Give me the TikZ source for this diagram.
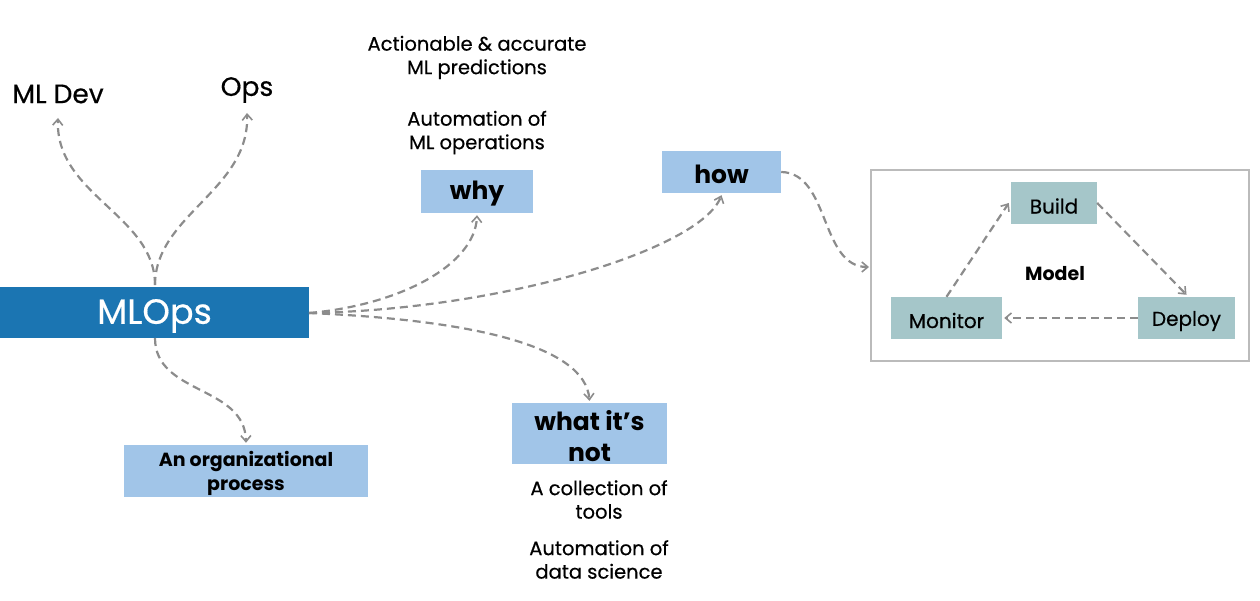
\documentclass[tikz,border=0pt]{standalone}
\usepackage{fontspec}
\setmainfont{Poppins}
\newfontfamily\medfont{Poppins}[FakeBold=0.5]
\usetikzlibrary{arrows.meta,calc}
\definecolor{mlblue}{HTML}{1B75B2}
\definecolor{lblue}{HTML}{A1C5E8}
\definecolor{teal}{HTML}{A5C6C9}
\definecolor{arr}{HTML}{8C8C8C}
\definecolor{frame}{HTML}{BBBBBB}
\tikzset{
  conn/.style={draw=arr, line width=2.2pt, dash pattern=on 8pt off 5pt, -{Straight Barb[length=6pt,width=10pt,line width=1.6pt]}},
  lbox/.style={fill=lblue, inner sep=0pt},
  tbox/.style={fill=teal, inner sep=0pt, minimum height=42pt},
  txt/.style={align=center, inner sep=0pt, text=black},
  small/.style={txt, font=\medfont\fontsize{19.5}{23.5}\selectfont},
  mid/.style={txt, font=\medfont\fontsize{20}{24}\selectfont},
  big/.style={txt, font=\bfseries\fontsize{25}{30.5}\selectfont},
}
\begin{document}
\begin{tikzpicture}[x=1pt,y=-1pt]
\useasboundingbox (0,0) rectangle (1260,601);
% main
\node[fill=mlblue, minimum width=309pt, minimum height=51pt, inner sep=0pt] (ml) at (154.5,312.5) {};
\node[txt, text=white, font=\medfont\fontsize{35}{38}\selectfont] (mlt) at (154.5,316) {MLOps};
\node[txt, font=\medfont\fontsize{26.5}{30}\selectfont] (dev) at (58,94) {ML Dev};
\node[txt, font=\medfont\fontsize{26.5}{30}\selectfont] (ops) at (247,90) {Ops};
\node[lbox, minimum width=112pt, minimum height=43pt] (why) at (477,191.5) {};
\node[big] (whyt) at (477,194) {why};
\node[lbox, minimum width=119pt, minimum height=42pt] (how) at (721.5,172) {};
\node[big] (howt) at (721.5,174.5) {how};
\node[lbox, minimum width=155pt, minimum height=61pt] (what) at (589.5,433.5) {};
\node[big] (whatt) at (589.5,436) {what it’s\\not};
\node[lbox, minimum width=244pt, minimum height=52pt] (org) at (246,471) {};
\node[txt, font=\bfseries\fontsize{19}{24}\selectfont] (orgt) at (246,473.5) {An organizational\\process};
\node[small] (t1) at (477,57.5) {Actionable \& accurate\\ML predictions};
\node[small] (t2) at (477,132.5) {Automation of\\ML operations};
\node[small] (t3) at (599,499.5) {A collection of\\tools};
\node[small] (t4) at (599,559.5) {Automation of\\data science};
% model frame
\node[draw=frame, line width=1.2pt, minimum width=378pt, minimum height=191pt, inner sep=0pt] (fr) at (1060,265.5) {};
\node[tbox, minimum width=86pt] (build) at (1054,203) {};
\node[mid] (buildt) at (1054,206) {Build};
\node[tbox, minimum width=111pt] (mon) at (946.5,318) {};
\node[mid] (mont) at (946.5,320.5) {Monitor};
\node[tbox, minimum width=97pt] (dep) at (1186.5,318) {};
\node[mid] (dept) at (1186.5,321) {Deploy};
\node[txt, font=\bfseries\fontsize{19}{22}\selectfont] (model) at (1055,274) {Model};
\coordinate (mltop) at (155,285);
\coordinate (mlr) at (309,313);
\coordinate (mlb) at (155,338);
\coordinate (frin) at (869,267);
\coordinate (devtip) at (58,118);
\coordinate (opstip) at (247,113);
% connectors
\draw[conn] (mltop) .. controls (155,215) and (55,195) .. (devtip);
\draw[conn] (mltop) .. controls (155,215) and (250,190) .. (opstip);
\draw[conn] (mlr) .. controls (400,305) and (475,265) .. ($(why.south)+(0,2)$);
\draw[conn] (mlr) .. controls (500,310) and (700,250) .. ($(how.south)+(0,2)$);
\draw[conn] (mlr) .. controls (470,320) and (585,345) .. ($(what.north)+(0,-2)$);
\draw[conn] (mlb) .. controls (155,395) and (245,385) .. ($(org.north)+(0,-2)$);
\draw[conn] (how.east) .. controls (830,173) and (820,267) .. (frin);
\draw[conn] (mon.north) -- ($(build.west)+(-2,0)$);
\draw[conn] (build.east) -- ($(dep.north)+(0,-2)$);
\draw[conn] (dep.west) -- ($(mon.east)+(2,0)$);
\end{tikzpicture}
\end{document}
